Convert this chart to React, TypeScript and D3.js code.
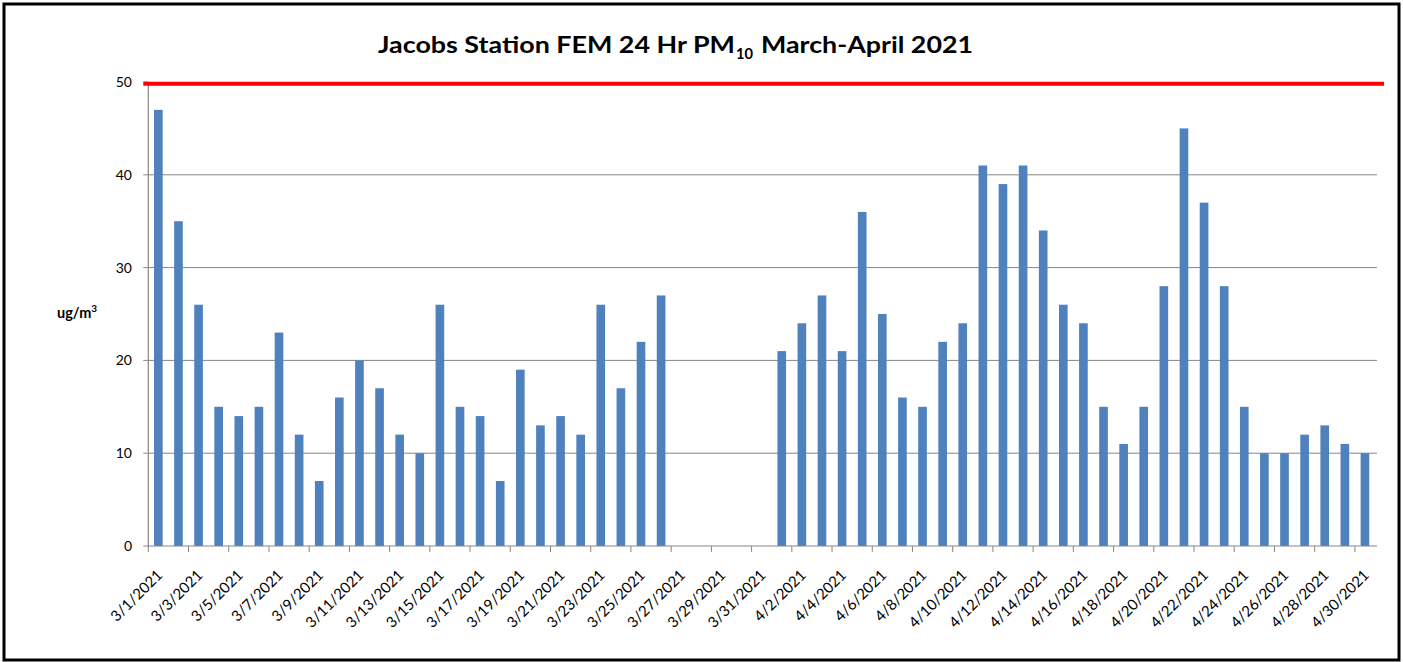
import React from "react";
import * as d3 from "d3";

const dates: string[] = [
  "3/1/2021","3/2/2021","3/3/2021","3/4/2021","3/5/2021","3/6/2021","3/7/2021","3/8/2021","3/9/2021","3/10/2021",
  "3/11/2021","3/12/2021","3/13/2021","3/14/2021","3/15/2021","3/16/2021","3/17/2021","3/18/2021","3/19/2021","3/20/2021",
  "3/21/2021","3/22/2021","3/23/2021","3/24/2021","3/25/2021","3/26/2021","3/27/2021","3/28/2021","3/29/2021","3/30/2021",
  "3/31/2021",
  "4/1/2021","4/2/2021","4/3/2021","4/4/2021","4/5/2021","4/6/2021","4/7/2021","4/8/2021","4/9/2021","4/10/2021",
  "4/11/2021","4/12/2021","4/13/2021","4/14/2021","4/15/2021","4/16/2021","4/17/2021","4/18/2021","4/19/2021","4/20/2021",
  "4/21/2021","4/22/2021","4/23/2021","4/24/2021","4/25/2021","4/26/2021","4/27/2021","4/28/2021","4/29/2021","4/30/2021",
];

const marchPM10: (number | null)[] = [
  47, 35, 26, 15, 14, 15, 23, 12, 7, 16,
  20, 17, 12, 10, 26, 15, 14, 7, 19, 13,
  14, 12, 26, 17, 22, 27, null, null, null, null,
  null,
];

const aprilPM10: (number | null)[] = [
  21, 24, 27, 21, 36, 25, 16, 15, 22, 24,
  41, 39, 41, 34, 26, 24, 15, 11, 15, 28,
  45, 37, 28, 15, 10, 10, 12, 13, 11, 10,
];

const pm10Values = [...marchPM10, ...aprilPM10];
const yTicks = [0, 10, 20, 30, 40, 50];
const standardLimit = 50;

const W = 1403;
const H = 662;
const left = 148.3;
const right = 1375;
const top = 82;
const bottom = 546;

export default function App() {
  const x = d3
    .scaleBand<string>()
    .domain(dates)
    .range([left, right])
    .paddingInner(0.57)
    .paddingOuter(0.285);
  const step = x.step();
  const y = d3.scaleLinear().domain([0, 50]).range([bottom, top]);
  const font = "Lato, 'Open Sans', sans-serif";
  const axisColor = "#868686";

  const tickIdx = dates.map((_, i) => i).filter((i) => i % 2 === 0);
  const boundary = (i: number) => (x(dates[i]) as number) - (step * 0.57) / 2;
  const center = (i: number) => (x(dates[i]) as number) + x.bandwidth() / 2;

  return (
    <div>
      <style>{`body{margin:0;background:#fff}`}</style>
      <svg width={W} height={H} style={{ display: "block" }}>
        <rect x={0} y={0} width={W} height={H} fill="#fff" />
        <rect x={4} y={4} width={1395} height={656} fill="none" stroke="#000" strokeWidth={3} />

        {/* title */}
        <g fontFamily={font} fontWeight={700} fill="#000">
          <text x={378} y={53} fontSize={23} textLength={357} lengthAdjust="spacingAndGlyphs">
            Jacobs Station FEM 24 Hr PM
          </text>
          <text x={736} y={59} fontSize={15} textLength={17} lengthAdjust="spacingAndGlyphs">
            10
          </text>
          <text x={761} y={53} fontSize={23} textLength={212} lengthAdjust="spacingAndGlyphs">
            March-April 2021
          </text>
        </g>

        {/* gridlines */}
        {yTicks
          .filter((t) => t > 0 && t < 50)
          .map((t) => (
            <line key={"g" + t} x1={left} x2={right + 2} y1={y(t)} y2={y(t)} stroke={axisColor} strokeWidth={1} />
          ))}

        {/* y axis */}
        <line x1={left} x2={left} y1={top} y2={bottom} stroke={axisColor} strokeWidth={1.2} />
        {yTicks.map((t) => (
          <g key={"y" + t}>
            <line x1={left - 5} x2={left} y1={y(t)} y2={y(t)} stroke={axisColor} strokeWidth={1} />
            <text x={132} y={y(t)} dy="0.36em" textAnchor="end" fontFamily={font} fontSize={14} fill="#000">
              {t}
            </text>
          </g>
        ))}
        <text x={57} y={318} fontFamily={font} fontSize={14.5} fontWeight={700} fill="#000">
          ug/m
          <tspan fontSize={10} dy={-6}>3</tspan>
        </text>

        {/* bars */}
        {pm10Values.map((v, i) =>
          v == null ? null : (
            <rect
              key={"b" + i}
              x={x(dates[i]) as number}
              y={y(v)}
              width={x.bandwidth()}
              height={y(0) - y(v)}
              fill="#4F81BD"
            />
          )
        )}

        {/* x axis */}
        <line x1={left} x2={right + 2} y1={bottom} y2={bottom} stroke={axisColor} strokeWidth={1.2} />
        {tickIdx.map((i) => (
          <line key={"t" + i} x1={boundary(i)} x2={boundary(i)} y1={bottom} y2={bottom + 6} stroke={axisColor} strokeWidth={1} />
        ))}
        {tickIdx.map((i) => (
          <text
            key={"l" + i}
            transform={`translate(${center(i) + 5},${bottom + 30}) rotate(-45)`}
            textAnchor="end"
            fontFamily={font}
            fontSize={15}
            fill="#000"
          >
            {dates[i]}
          </text>
        ))}

        {/* limit line */}
        <line x1={left - 5} x2={1384} y1={y(standardLimit) + 1.7} y2={y(standardLimit) + 1.7} stroke="#FF0000" strokeWidth={4} />
      </svg>
    </div>
  );
}
